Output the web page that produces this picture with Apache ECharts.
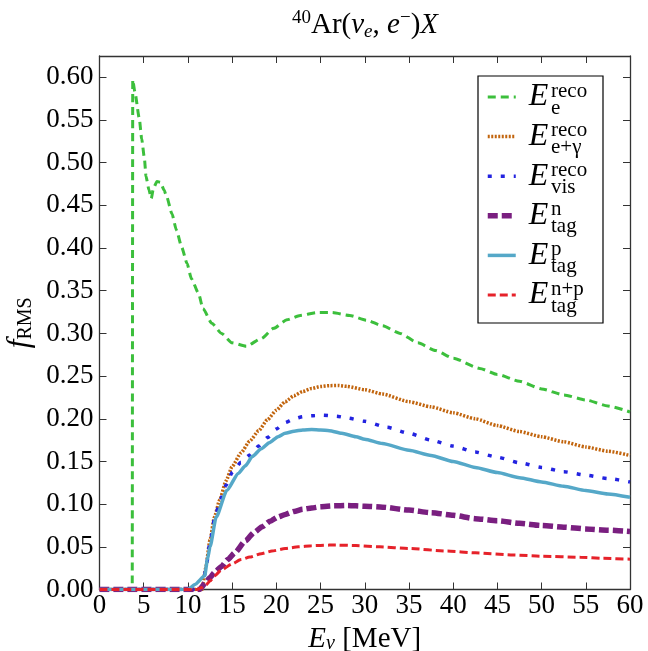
<!DOCTYPE html>
<html><head><meta charset="utf-8">
<script src="https://cdn.jsdelivr.net/npm/echarts@6/dist/echarts.min.js"></script>
<style>html,body{margin:0;padding:0;background:#fff}#c{width:648px;height:651px}</style>
</head><body><div id="c"></div>
<script>
// ---- data ----
const xTicks = [0,5,10,15,20,25,30,35,40,45,50,55,60];
const yTicks = [0,0.05,0.10,0.15,0.20,0.25,0.30,0.35,0.40,0.45,0.50,0.55,0.60];

const eRecoE = [0,3.7,3.76,4.0,4.5,4.77,5.07,5.26,5.6,5.85,6.1,6.5,6.9,7.3,7.6,8.2,8.7,9.3,9.9,10.4,11.2,11.7,12.7,13.8,15.0,16.6,18.3,19.7,21.2,22.7,24.6,26.3,28.3,30.2,32,34,36,38,40,43,45,47.5,50,52.5,55,57.5,60];
const eRecoF = [0,0,0.597,0.583,0.552,0.528,0.506,0.484,0.468,0.458,0.470,0.478,0.477,0.468,0.460,0.440,0.421,0.401,0.382,0.364,0.347,0.329,0.312,0.300,0.289,0.285,0.294,0.306,0.316,0.321,0.3245,0.3245,0.321,0.3155,0.309,0.300,0.289,0.280,0.271,0.259,0.252,0.244,0.235,0.228,0.222,0.215,0.208];

const egRecoE = [0,11.6,12.0,12.5,13.0,13.6,14.3,15,16,17,18,19,20,21,22,23,24,25,26,27,28,30,32,35,37.5,40,42.5,45,47.5,50,52.5,55,57.5,60];
const egRecoF = [0,0,0.025,0.058,0.085,0.105,0.127,0.144,0.160,0.174,0.186,0.199,0.210,0.220,0.227,0.232,0.2355,0.2378,0.2388,0.239,0.238,0.234,0.229,0.220,0.214,0.207,0.200,0.192,0.185,0.179,0.173,0.167,0.162,0.157];

const visRecoE = [0,11.6,12.0,12.5,13.0,13.6,14.3,15,16,17,18,19,20,21,22,23,24,25.3,26.8,28,30,32.5,35,37.5,40,42.5,45,47.5,50,52.5,55,57.5,60];
const visRecoF = [0,0,0.022,0.055,0.082,0.103,0.122,0.137,0.149,0.1575,0.168,0.178,0.188,0.1955,0.200,0.2025,0.2035,0.2043,0.203,0.201,0.197,0.190,0.183,0.175,0.168,0.161,0.155,0.1485,0.143,0.138,0.134,0.130,0.126];

const nTagE = [0,11.3,12,12.5,13,13.8,14.5,15.3,16.5,17.5,18.4,19.3,20.2,21,22,23,24,25,26.5,28,30,32,35,37.5,40,42.5,45,47.5,50,52.5,55,57.5,60];
const nTagF = [0,0,0.008,0.014,0.020,0.027,0.035,0.043,0.057,0.067,0.0735,0.080,0.085,0.088,0.0915,0.094,0.0955,0.097,0.098,0.0985,0.0975,0.0965,0.093,0.090,0.087,0.083,0.0805,0.0775,0.075,0.073,0.071,0.0695,0.068];

const pTagE = [0,10,10.8,11.9,12.2,12.5,13.2,14.4,15.7,16.5,17.3,18.3,19.2,20.2,21,22,23,24,25,26,27.4,29,30,32,35,37.5,40,42.5,45,47.5,50,52.5,55,57.5,60];
const pTagF = [0,0,0.006,0.016,0.035,0.050,0.085,0.116,0.136,0.145,0.156,0.165,0.172,0.179,0.183,0.1855,0.187,0.1875,0.187,0.186,0.183,0.179,0.176,0.171,0.163,0.157,0.150,0.143,0.137,0.131,0.126,0.121,0.116,0.112,0.108];

const npTagE = [0,11,11.5,12,12.5,13,13.8,15,16,17,18.3,19.5,21,22.5,24,26,27,29,31.7,35,39.3,42.5,46.8,50,54.4,57,60];
const npTagF = [0,0,0.002,0.005,0.010,0.016,0.023,0.030,0.035,0.038,0.042,0.045,0.048,0.050,0.0513,0.052,0.052,0.0515,0.050,0.048,0.045,0.043,0.0404,0.039,0.0377,0.0365,0.0355];

const seriesNames = ['E_e^reco','E_e+γ^reco','E_vis^reco','E_tag^n','E_tag^p','E_tag^n+p'];
const legendSup = ['reco','reco','reco','n','p','n+p'];
const legendSub = ['e','e+γ','vis','tag','tag','tag'];

function pairs(xs, ys){ return xs.map((x,i)=>[x, ys[i]]); }

const FONT = 'Liberation Serif';
const axisColor = '#333';
const chart = echarts.init(document.getElementById('c'), null, {renderer:'canvas'});

const styles = [
  {color:'#3cbf3c', width:3, type:[8,5]},
  {color:'#c2650e', width:3.5, type:[2,1.5]},
  {color:'#2323e0', width:3.5, type:[4,9]},
  {color:'#7a1f80', width:5.5, type:[10,4]},
  {color:'#55a8c8', width:3.5, type:'solid'},
  {color:'#e6222a', width:3, type:[8,4]}
];
const datasets = [pairs(eRecoE,eRecoF),pairs(egRecoE,egRecoF),pairs(visRecoE,visRecoF),pairs(nTagE,nTagF),pairs(pTagE,pTagF),pairs(npTagE,npTagF)];

const series = seriesNames.map((n,i)=>({
  name:n, type:'line', data:datasets[i], showSymbol:false, symbol:'none',
  smooth:0.2, smoothMonotone:'x',
  lineStyle:{color:styles[i].color, width:styles[i].width, type:styles[i].type, cap:'butt'},
  itemStyle:{color:styles[i].color},
  xAxisIndex:0, yAxisIndex:0, z:2
}));

function isTick(v, step){ return Math.abs(v/step - Math.round(v/step)) < 1e-6; }

const baseAxis = {
  axisLine:{show:true, onZero:false, lineStyle:{color:axisColor, width:1.3}},
  axisTick:{show:true, inside:true, length:7, lineStyle:{color:axisColor, width:1}},
  splitLine:{show:false}
};

// legend geometry: item centres at 97 + 39.6*i
const LEG_TEXT_H = 32, LEG_PITCH = 39.6, LEG_FIRST_C = 97, LEG_SUPX = 551;
const LEG_TOP = LEG_FIRST_C - LEG_TEXT_H/2;
const legendGraphics = [];
legendSup.forEach((s,i)=>{
  const c = LEG_FIRST_C + i*LEG_PITCH;
  legendGraphics.push({type:'text', z:6, x:LEG_SUPX, y:c-6,
    style:{text:s, fontFamily:FONT, fontSize:21, fill:'#000', textVerticalAlign:'middle', textAlign:'left'}});
  legendGraphics.push({type:'text', z:6, x:LEG_SUPX, y:c+11,
    style:{text:legendSub[i], fontFamily:FONT, fontSize:21, fill:'#000', textVerticalAlign:'middle', textAlign:'left'}});
});

const option = {
  animation:false,
  backgroundColor:'#fff',
  grid:{left:99.5, right:18, top:56, bottom:61.5, containLabel:false, outerBoundsMode:'none'},
  xAxis:[
    Object.assign({}, baseAxis, {
      type:'value', min:0, max:60, interval:5, position:'bottom',
      axisLabel:{show:true, fontFamily:FONT, fontSize:27, color:'#000', margin:3,
        formatter:v=> xTicks.indexOf(v)>=0 ? String(v) : ''},
      name:'{i|E}{sub|ν}{n| [MeV]}', nameLocation:'middle', nameGap:27,
      nameTextStyle:{rich:{
        i:{fontFamily:FONT, fontStyle:'italic', fontSize:29, color:'#000', lineHeight:30},
        sub:{fontFamily:FONT, fontStyle:'italic', fontSize:20, color:'#000', lineHeight:16, verticalAlign:'bottom'},
        n:{fontFamily:FONT, fontSize:29, color:'#000', lineHeight:30}
      }}
    }),
    Object.assign({}, baseAxis, {
      type:'value', min:0, max:60, interval:5, position:'top',
      axisLabel:{show:false}
    })
  ],
  yAxis:[
    Object.assign({}, baseAxis, {
      type:'value', min:0, max:0.625, interval:0.05, position:'left',
      axisLabel:{show:true, fontFamily:FONT, fontSize:27, color:'#000', margin:6, showMaxLabel:false,
        formatter:v=> (isTick(v,0.05) && v <= 0.6000001) ? v.toFixed(2) : ''},
      name:'{i|f}{sub|RMS}', nameLocation:'middle', nameGap:61, nameRotate:90,
      nameTextStyle:{rich:{
        i:{fontFamily:FONT, fontStyle:'italic', fontSize:31, color:'#000', lineHeight:32},
        sub:{fontFamily:FONT, fontSize:20, color:'#000', lineHeight:18, verticalAlign:'bottom'}
      }}
    }),
    Object.assign({}, baseAxis, {
      type:'value', min:0, max:0.625, interval:0.05, position:'right',
      axisLabel:{show:false}
    })
  ],
  legend:{
    show:true, orient:'vertical', left:485, top:LEG_TOP, padding:0,
    itemWidth:28, itemHeight:LEG_TEXT_H, itemGap:LEG_PITCH-LEG_TEXT_H,
    data:seriesNames,
    lineStyle:{width:'inherit'},
    itemStyle:{opacity:0, color:'rgba(0,0,0,0)', borderColor:'rgba(0,0,0,0)', borderWidth:0},
    formatter:function(name){ return '{pad|}{E|E}'; },
    textStyle:{rich:{
      pad:{width:8, fontSize:10, lineHeight:LEG_TEXT_H},
      E:{fontFamily:FONT, fontStyle:'italic', fontSize:32, color:'#000', lineHeight:LEG_TEXT_H}
    }}
  },
  graphic:[
    {type:'rect', z:3, shape:{x:478, y:76, width:125, height:247},
      style:{fill:'#fff', stroke:'#000', lineWidth:1.2}},
    {type:'text', z:5, x:365, y:9,
      style:{
        text:'{sup|40}{n|Ar(}{i|ν}{sub|e}{n|, }{i|e}{sup|−}{n|)}{i|X}',
        textAlign:'center', textVerticalAlign:'top',
        rich:{
          n:{fontFamily:FONT, fontSize:29, fill:'#000', lineHeight:32},
          i:{fontFamily:FONT, fontStyle:'italic', fontSize:29, fill:'#000', lineHeight:32},
          sup:{fontFamily:FONT, fontSize:19, fill:'#000', lineHeight:18, verticalAlign:'top'},
          sub:{fontFamily:FONT, fontStyle:'italic', fontSize:19, fill:'#000', lineHeight:18, verticalAlign:'bottom'}
        }
      }}
  ].concat(legendGraphics),
  series:series
};
chart.setOption(option);
</script>
</body></html>
